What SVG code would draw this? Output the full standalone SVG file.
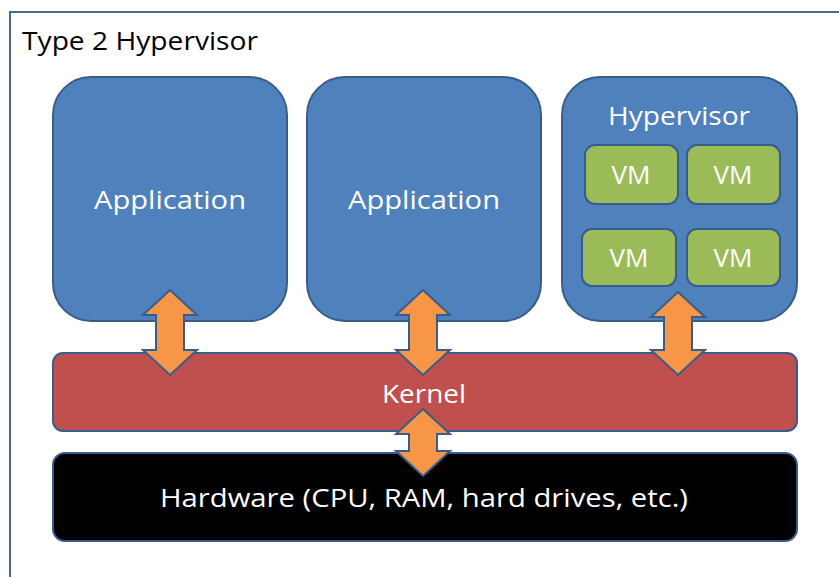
<svg xmlns="http://www.w3.org/2000/svg" width="839" height="577" viewBox="0 0 839 577">
<defs>
<style>
.box{fill:#4F81BD;stroke:#385D8A;stroke-width:2}
.vm{fill:#9BBB59;stroke:#385D8A;stroke-width:2}
.arrow{fill:#F79646;stroke:#385D8A;stroke-width:2;stroke-linejoin:miter}
.t{font-family:"Open Sans","Liberation Sans",sans-serif;fill:#FFFFFF;text-anchor:middle}
</style>
</defs>
<rect width="839" height="577" fill="#FFFFFF"/>
<rect x="10" y="12" width="840" height="580" fill="#FFFFFF" stroke="#4A6A93" stroke-width="2"/>
<text x="22" y="50" font-family="Open Sans, Liberation Sans, sans-serif" font-size="25" fill="#000000" textLength="236" lengthAdjust="spacingAndGlyphs">Type 2 Hypervisor</text>
<g id="app1">
<rect class="box" x="53" y="77" width="234" height="244" rx="38"/>
<text class="t" x="170" y="209" font-size="26" textLength="152" lengthAdjust="spacingAndGlyphs">Application</text>
</g>
<g id="app2">
<rect class="box" x="307" y="77" width="234" height="244" rx="38"/>
<text class="t" x="424" y="209" font-size="26" textLength="152" lengthAdjust="spacingAndGlyphs">Application</text>
</g>
<g id="hypervisor">
<rect class="box" x="562" y="77" width="235" height="244" rx="38"/>
<text class="t" x="679" y="125" font-size="26" textLength="142" lengthAdjust="spacingAndGlyphs">Hypervisor</text>
</g>
<g id="vm1">
<rect class="vm" x="585" y="145" width="93" height="59" rx="10"/>
<text class="t" x="631" y="184" font-size="26">VM</text>
</g>
<g id="vm2">
<rect class="vm" x="687" y="145" width="93" height="59" rx="10"/>
<text class="t" x="733" y="184" font-size="26">VM</text>
</g>
<g id="vm3">
<rect class="vm" x="582" y="229" width="94" height="57" rx="10"/>
<text class="t" x="629" y="267" font-size="26">VM</text>
</g>
<g id="vm4">
<rect class="vm" x="687" y="229" width="93" height="57" rx="10"/>
<text class="t" x="733" y="267" font-size="26">VM</text>
</g>
<g id="kernel">
<rect x="53" y="353" width="744" height="78" rx="10" fill="#C0504D" stroke="#385D8A" stroke-width="2"/>
<text class="t" x="424" y="403" font-size="26" textLength="84" lengthAdjust="spacingAndGlyphs">Kernel</text>
</g>
<g id="hardware">
<rect x="53" y="453" width="744" height="88" rx="12" fill="#000000" stroke="#385D8A" stroke-width="2"/>
<text class="t" x="424" y="507" font-size="26" textLength="528" lengthAdjust="spacingAndGlyphs">Hardware (CPU, RAM, hard drives, etc.)</text>
</g>
<g id="connectors">
<polygon class="arrow" points="170,290 197,315 184,315 184,350 197,350 170,375 143,350 156,350 156,315 143,315"/>
<polygon class="arrow" points="423,290 450,315 437,315 437,350 450,350 423,375 396,350 409,350 409,315 396,315"/>
<polygon class="arrow" points="678,292 705,317 692,317 692,350 705,350 678,375 651,350 664,350 664,317 651,317"/>
<polygon class="arrow" points="423,409 450,434 437,434 437,451 450,451 423,476 396,451 409,451 409,434 396,434"/>
</g>
</svg>
